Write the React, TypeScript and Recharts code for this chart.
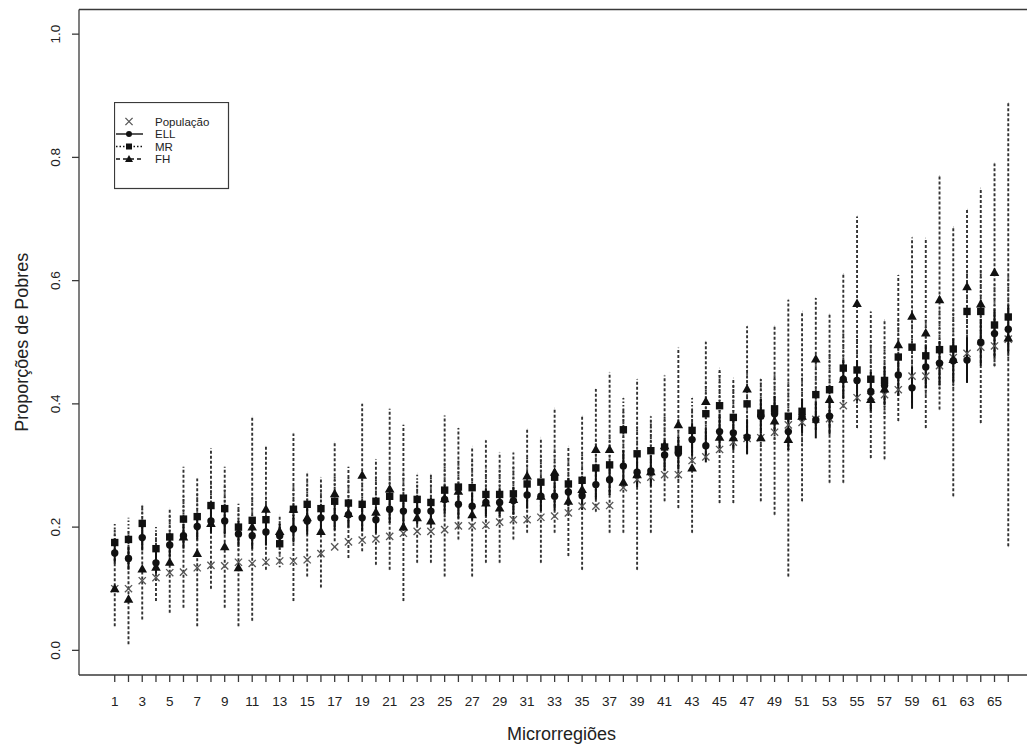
import { ScatterChart, Scatter, XAxis, YAxis, ErrorBar, Legend, ReferenceLine, Label } from "recharts"

// microrregiões 1..66, ordered by population proportion
const REGIAO = [
    1, 2, 3, 4, 5, 6, 7, 8, 9, 10, 11, 12, 13, 14, 15, 16, 17, 18, 19, 20, 21, 22,
    23, 24, 25, 26, 27, 28, 29, 30, 31, 32, 33, 34, 35, 36, 37, 38, 39, 40, 41, 42, 43, 44,
    45, 46, 47, 48, 49, 50, 51, 52, 53, 54, 55, 56, 57, 58, 59, 60, 61, 62, 63, 64, 65, 66,
]

const POP = [
    0.100, 0.100, 0.113, 0.118, 0.126, 0.127, 0.134, 0.138, 0.137, 0.143, 0.141, 0.143, 0.145, 0.145, 0.147, 0.157,
    0.168, 0.176, 0.179, 0.181, 0.185, 0.190, 0.193, 0.193, 0.196, 0.202, 0.202, 0.203, 0.208, 0.212, 0.212, 0.216,
    0.218, 0.223, 0.234, 0.234, 0.235, 0.264, 0.277, 0.281, 0.285, 0.285, 0.308, 0.314, 0.326, 0.338, 0.344, 0.345,
    0.354, 0.366, 0.370, 0.375, 0.376, 0.397, 0.410, 0.412, 0.415, 0.423, 0.445, 0.445, 0.462, 0.475, 0.482, 0.492,
    0.494, 0.505,
]

const ELL = [
    0.158, 0.149, 0.183, 0.142, 0.171, 0.186, 0.201, 0.210, 0.210, 0.189, 0.186, 0.192, 0.186, 0.197, 0.210, 0.215,
    0.215, 0.220, 0.215, 0.212, 0.229, 0.226, 0.226, 0.226, 0.245, 0.237, 0.234, 0.240, 0.240, 0.243, 0.252, 0.250,
    0.250, 0.257, 0.251, 0.269, 0.277, 0.299, 0.289, 0.291, 0.317, 0.320, 0.342, 0.332, 0.355, 0.353, 0.346, 0.380,
    0.384, 0.355, 0.380, 0.374, 0.380, 0.440, 0.438, 0.420, 0.430, 0.447, 0.426, 0.460, 0.466, 0.470, 0.471, 0.500,
    0.514, 0.521,
]
const ELL_LO = [
    0.142, 0.131, 0.162, 0.125, 0.152, 0.165, 0.180, 0.190, 0.188, 0.170, 0.165, 0.170, 0.170, 0.175, 0.188, 0.195,
    0.195, 0.200, 0.193, 0.190, 0.207, 0.203, 0.205, 0.204, 0.222, 0.214, 0.212, 0.218, 0.218, 0.220, 0.230, 0.226,
    0.227, 0.234, 0.228, 0.245, 0.252, 0.274, 0.265, 0.266, 0.292, 0.294, 0.316, 0.305, 0.328, 0.326, 0.318, 0.352,
    0.355, 0.325, 0.352, 0.344, 0.350, 0.408, 0.405, 0.388, 0.398, 0.413, 0.392, 0.425, 0.430, 0.434, 0.434, 0.462,
    0.475, 0.482,
]
const ELL_HI = [
    0.172, 0.168, 0.202, 0.162, 0.190, 0.205, 0.222, 0.232, 0.232, 0.210, 0.208, 0.214, 0.205, 0.220, 0.232, 0.236,
    0.235, 0.242, 0.237, 0.234, 0.250, 0.248, 0.248, 0.248, 0.268, 0.260, 0.256, 0.262, 0.262, 0.265, 0.275, 0.273,
    0.273, 0.280, 0.274, 0.294, 0.302, 0.325, 0.314, 0.316, 0.342, 0.346, 0.368, 0.360, 0.383, 0.380, 0.374, 0.408,
    0.413, 0.385, 0.408, 0.404, 0.410, 0.472, 0.471, 0.452, 0.462, 0.481, 0.460, 0.495, 0.502, 0.506, 0.508, 0.538,
    0.553, 0.560,
]

const MR = [
    0.175, 0.180, 0.206, 0.165, 0.184, 0.213, 0.217, 0.235, 0.230, 0.200, 0.211, 0.212, 0.173, 0.229, 0.237, 0.230,
    0.242, 0.239, 0.237, 0.242, 0.250, 0.247, 0.245, 0.240, 0.260, 0.265, 0.264, 0.253, 0.253, 0.254, 0.270, 0.273,
    0.281, 0.270, 0.276, 0.296, 0.301, 0.358, 0.319, 0.324, 0.330, 0.326, 0.357, 0.384, 0.397, 0.378, 0.400, 0.385,
    0.392, 0.380, 0.388, 0.415, 0.423, 0.458, 0.455, 0.440, 0.438, 0.476, 0.492, 0.478, 0.488, 0.489, 0.550, 0.550,
    0.528, 0.541,
]
const MR_LO = [
    0.140, 0.140, 0.170, 0.130, 0.148, 0.175, 0.178, 0.195, 0.190, 0.162, 0.172, 0.172, 0.135, 0.190, 0.198, 0.190,
    0.200, 0.198, 0.196, 0.200, 0.207, 0.204, 0.203, 0.198, 0.216, 0.220, 0.220, 0.210, 0.210, 0.210, 0.225, 0.228,
    0.235, 0.225, 0.230, 0.248, 0.252, 0.305, 0.270, 0.275, 0.280, 0.276, 0.305, 0.330, 0.342, 0.325, 0.345, 0.330,
    0.336, 0.325, 0.332, 0.358, 0.365, 0.398, 0.395, 0.380, 0.378, 0.414, 0.430, 0.415, 0.424, 0.425, 0.484, 0.484,
    0.462, 0.474,
]
const MR_HI = [
    0.205, 0.215, 0.238, 0.200, 0.220, 0.250, 0.255, 0.275, 0.270, 0.238, 0.250, 0.252, 0.210, 0.268, 0.276, 0.270,
    0.284, 0.280, 0.278, 0.284, 0.293, 0.290, 0.287, 0.282, 0.304, 0.310, 0.308, 0.296, 0.296, 0.298, 0.315, 0.318,
    0.327, 0.315, 0.322, 0.344, 0.350, 0.410, 0.368, 0.373, 0.380, 0.376, 0.410, 0.438, 0.452, 0.431, 0.455, 0.440,
    0.448, 0.435, 0.444, 0.472, 0.481, 0.518, 0.515, 0.500, 0.498, 0.538, 0.554, 0.541, 0.552, 0.553, 0.616, 0.616,
    0.594, 0.608,
]

const FH = [
    0.100, 0.083, 0.132, 0.135, 0.143, 0.184, 0.157, 0.206, 0.168, 0.134, 0.200, 0.229, 0.193, 0.229, 0.215, 0.193,
    0.254, 0.222, 0.284, 0.224, 0.262, 0.200, 0.215, 0.210, 0.246, 0.258, 0.220, 0.239, 0.231, 0.245, 0.283, 0.250,
    0.289, 0.242, 0.261, 0.326, 0.326, 0.273, 0.285, 0.290, 0.332, 0.366, 0.296, 0.404, 0.346, 0.345, 0.424, 0.345,
    0.372, 0.342, 0.380, 0.473, 0.407, 0.440, 0.563, 0.407, 0.424, 0.496, 0.542, 0.515, 0.569, 0.472, 0.590, 0.562,
    0.613, 0.507,
]
const FH_LO = [
    0.039, 0.010, 0.050, 0.080, 0.061, 0.069, 0.039, 0.100, 0.069, 0.039, 0.048, 0.131, 0.155, 0.080, 0.120, 0.102,
    0.177, 0.150, 0.161, 0.139, 0.131, 0.080, 0.142, 0.142, 0.120, 0.180, 0.120, 0.142, 0.142, 0.180, 0.191, 0.142,
    0.191, 0.153, 0.131, 0.225, 0.191, 0.191, 0.131, 0.191, 0.242, 0.231, 0.191, 0.310, 0.239, 0.239, 0.320, 0.242,
    0.220, 0.120, 0.242, 0.358, 0.272, 0.272, 0.361, 0.312, 0.310, 0.372, 0.401, 0.361, 0.391, 0.250, 0.442, 0.369,
    0.461, 0.169,
]
const FH_HI = [
    0.196, 0.193, 0.235, 0.191, 0.231, 0.298, 0.279, 0.328, 0.298, 0.231, 0.380, 0.331, 0.220, 0.352, 0.289, 0.281,
    0.338, 0.298, 0.400, 0.310, 0.392, 0.366, 0.274, 0.286, 0.381, 0.361, 0.331, 0.341, 0.321, 0.321, 0.359, 0.345,
    0.393, 0.331, 0.380, 0.424, 0.451, 0.392, 0.440, 0.380, 0.446, 0.491, 0.393, 0.501, 0.458, 0.442, 0.526, 0.440,
    0.526, 0.569, 0.550, 0.572, 0.545, 0.611, 0.704, 0.550, 0.536, 0.609, 0.670, 0.669, 0.770, 0.687, 0.715, 0.750,
    0.790, 0.888,
]

const Y_TICKS = [0, 0.2, 0.4, 0.6, 0.8, 1.0]

const FONT = '"Liberation Sans", Arial, sans-serif'
const INK = "#222"
const AXIS = "#3a3a3a"

const rows = REGIAO.map((r, i) => ({
    x: r,
    pop: POP[i],
    ell: ELL[i],
    mr: MR[i],
    fh: FH[i],
    ellErr: [ELL[i] - ELL_LO[i], ELL_HI[i] - ELL[i]],
    mrErr: [MR[i] - MR_LO[i], MR_HI[i] - MR[i]],
    fhErr: [FH[i] - FH_LO[i], FH_HI[i] - FH[i]],
}))

const Empty = () => <g />

const CrossMark = (props: any) => {
    const { cx, cy } = props
    const s = 3.6
    return (
        <g stroke="#555" strokeWidth={1.3}>
            <line x1={cx - s} y1={cy - s} x2={cx + s} y2={cy + s} />
            <line x1={cx - s} y1={cy + s} x2={cx + s} y2={cy - s} />
        </g>
    )
}

const DotMark = (props: any) => <circle cx={props.cx} cy={props.cy} r={3.7} fill="#111" />

const SquareMark = (props: any) => (
    <rect x={props.cx - 3.7} y={props.cy - 3.7} width={7.4} height={7.4} fill="#111" />
)

const TriangleMark = (props: any) => {
    const { cx, cy } = props
    return <path d={`M${cx},${cy - 5}L${cx + 4.8},${cy + 3.5}L${cx - 4.8},${cy + 3.5}Z`} fill="#111" />
}

const YTick = (props: any) => {
    const { x, y, payload } = props
    return (
        <text x={x} y={y} transform={`rotate(-90, ${x}, ${y})`} textAnchor="middle" fontSize={13.5} fill={INK} fontFamily={FONT}>
            {Number(payload.value).toFixed(1)}
        </text>
    )
}

const YTitle = (props: any) => {
    const vb = props.viewBox
    const cx = 20
    const cy = vb.y + vb.height / 2
    return (
        <text x={cx} y={cy} transform={`rotate(-90, ${cx}, ${cy})`} textAnchor="middle" fontSize={18} fill={INK} fontFamily={FONT}>
            Proporções de Pobres
        </text>
    )
}

const XTitle = (props: any) => {
    const vb = props.viewBox
    return (
        <text x={vb.x + vb.width / 2} y={732} textAnchor="middle" fontSize={18} fill={INK} fontFamily={FONT}>
            Microrregiões
        </text>
    )
}

const LegendBox = () => {
    const rowsY = [19.5, 32, 44.5, 57]
    return (
        <svg width={116} height={88} style={{ display: "block" }}>
            <rect x={0.5} y={0.5} width={114} height={86} fill="#fff" stroke={AXIS} strokeWidth={1.2} />
            <CrossMark cx={15} cy={rowsY[0]} />
            <line x1={2} x2={29} y1={rowsY[1]} y2={rowsY[1]} stroke="#111" strokeWidth={1.4} />
            <circle cx={15} cy={rowsY[1]} r={3} fill="#111" />
            <line x1={2} x2={29} y1={rowsY[2]} y2={rowsY[2]} stroke="#111" strokeWidth={1.4} strokeDasharray="1.5 2" />
            <rect x={12} y={rowsY[2] - 3} width={6} height={6} fill="#111" />
            <line x1={2} x2={29} y1={rowsY[3]} y2={rowsY[3]} stroke="#111" strokeWidth={1.4} strokeDasharray="4 3" />
            <path d={`M15,${rowsY[3] - 4}L19,${rowsY[3] + 3}L11,${rowsY[3] + 3}Z`} fill="#111" />
            {["População", "ELL", "MR", "FH"].map((t, i) => (
                <text key={t} x={41} y={rowsY[i] + 4.2} fontSize={11.5} fill={INK} fontFamily={FONT}>
                    {t}
                </text>
            ))}
        </svg>
    )
}

export default function App() {
    return (
        <div style={{ width: 1027, height: 738, overflow: "hidden", position: "relative", background: "#fff" }}>
            <ScatterChart width={1100} height={738} margin={{ top: 1.5, right: 64, bottom: 5, left: 0 }}>
                <XAxis
                    dataKey="x"
                    type="number"
                    domain={[-1.6, 68.6]}
                    ticks={REGIAO}
                    interval={0}
                    tickFormatter={(v: number) => (v % 2 === 1 ? String(v) : "")}
                    height={66}
                    tickSize={7}
                    tickMargin={14}
                    stroke={AXIS}
                    strokeWidth={1.3}
                    tick={{ fill: INK, fontSize: 13.5, fontFamily: FONT }}
                    label={<Label content={XTitle} />}
                />
                <YAxis
                    type="number"
                    domain={[-0.04, 1.04]}
                    ticks={Y_TICKS}
                    width={71}
                    tickSize={7}
                    tickMargin={12}
                    stroke={AXIS}
                    strokeWidth={1.3}
                    tick={<YTick />}
                    label={<Label content={YTitle} />}
                />
                <ReferenceLine y={1.04} stroke={AXIS} strokeWidth={1.3} />

                {/* intervals first, markers on top */}
                <Scatter data={rows} dataKey="fh" shape={Empty} isAnimationActive={false}>
                    <ErrorBar dataKey="fhErr" direction="y" width={0} stroke="#333" strokeWidth={1.9} strokeDasharray="3 2" isAnimationActive={false} />
                </Scatter>
                <Scatter data={rows} dataKey="mr" shape={Empty} isAnimationActive={false}>
                    <ErrorBar dataKey="mrErr" direction="y" width={0} stroke="#333" strokeWidth={1.9} strokeDasharray="1.5 2" isAnimationActive={false} />
                </Scatter>
                <Scatter data={rows} dataKey="ell" shape={Empty} isAnimationActive={false}>
                    <ErrorBar dataKey="ellErr" direction="y" width={0} stroke="#111" strokeWidth={2} isAnimationActive={false} />
                </Scatter>

                <Scatter data={rows} dataKey="pop" name="População" shape={CrossMark} isAnimationActive={false} />
                <Scatter data={rows} dataKey="fh" name="FH" shape={TriangleMark} isAnimationActive={false} />
                <Scatter data={rows} dataKey="mr" name="MR" shape={SquareMark} isAnimationActive={false} />
                <Scatter data={rows} dataKey="ell" name="ELL" shape={DotMark} isAnimationActive={false} />

                <Legend
                    layout="vertical"
                    align="center"
                    verticalAlign="middle"
                    content={LegendBox}
                    wrapperStyle={{ position: "absolute", left: 106, top: 94, width: 116, height: 88 }}
                />
            </ScatterChart>
        </div>
    )
}
